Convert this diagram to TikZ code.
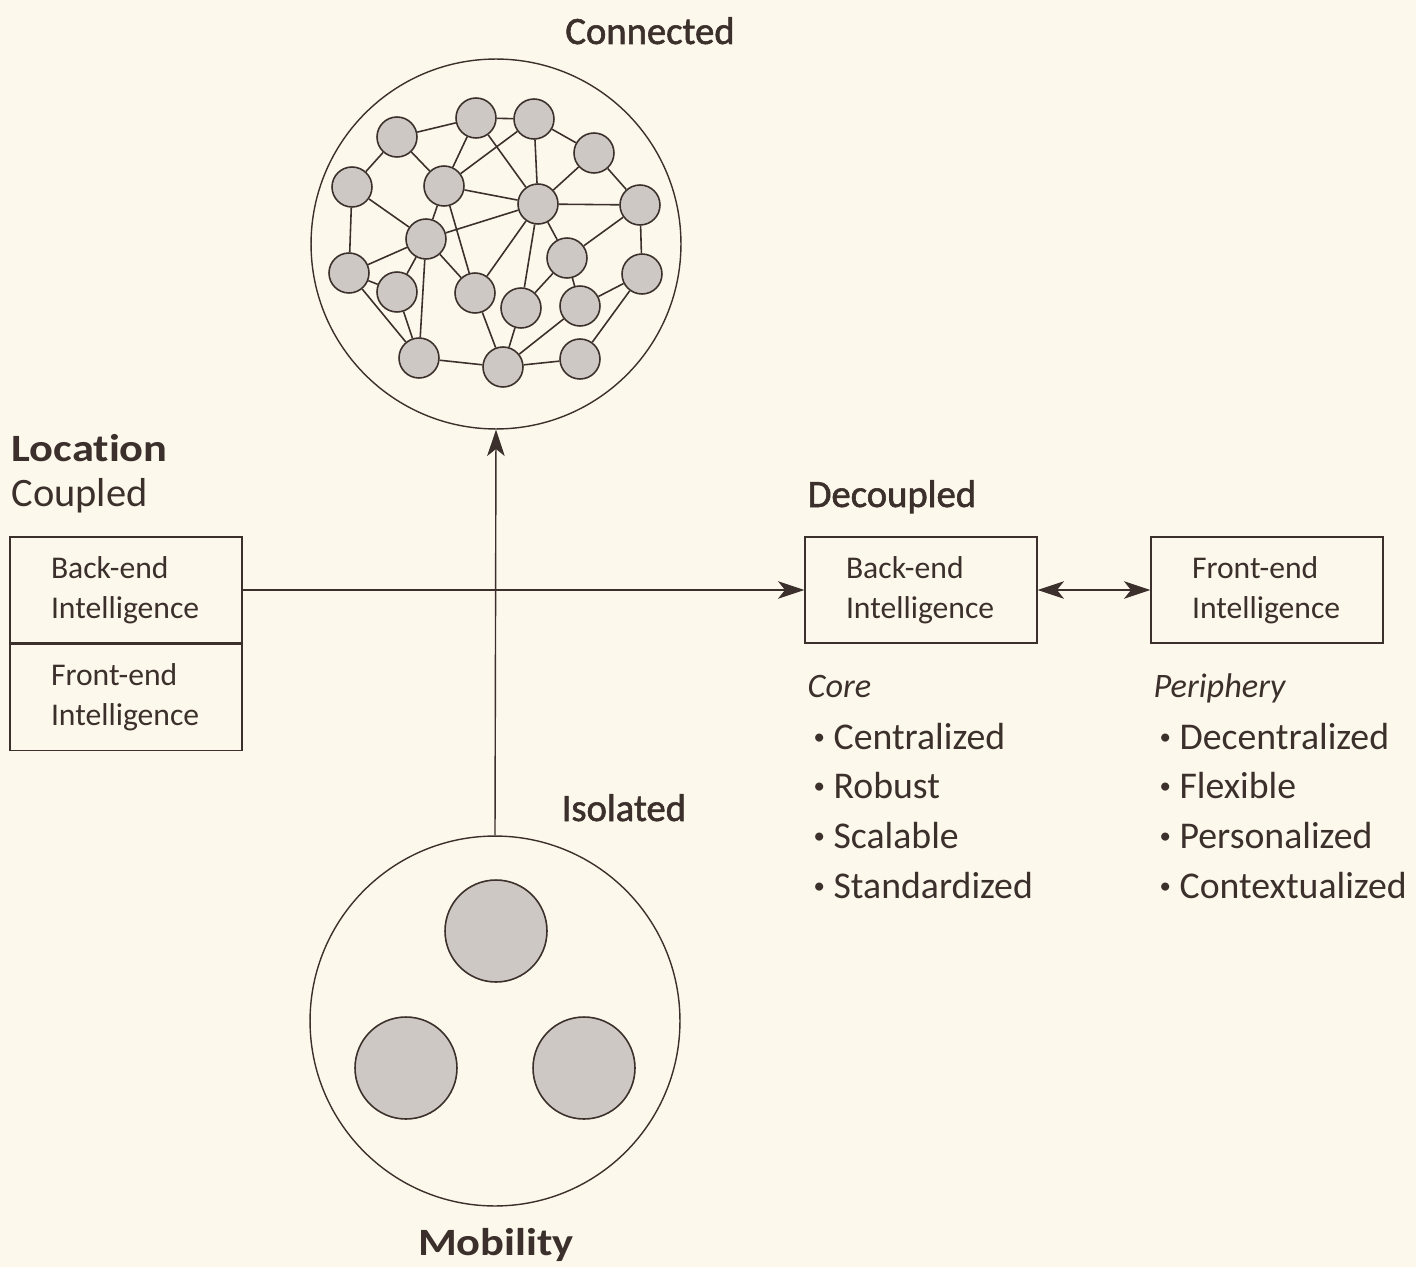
\documentclass[tikz,border=0pt]{standalone}
\usepackage{fontspec}
\setmainfont{Carlito}
\newfontfamily\widefont{Carlito}[FakeStretch=1.15,Ligatures=NoCommon]
\newfontfamily\semifont{Carlito}[FakeBold=1.5]
\usetikzlibrary{arrows.meta,positioning}
\definecolor{ink}{HTML}{3B302B}
\definecolor{nodegray}{HTML}{CDC8C3}
\definecolor{paper}{HTML}{FDF8EC}
\newcommand\dotmark{\raisebox{2.8pt}{\fontsize{13}{13}\selectfont •}}
\tikzset{
  hub/.style={circle,draw=ink,fill=nodegray,line width=0.9pt,minimum size=0.8cm,inner sep=0pt},
  blob/.style={hub,minimum size=2.04cm},
  ring/.style={circle,draw=ink,line width=0.8pt,minimum size=7.4cm,inner sep=0pt},
  ibox/.style={rectangle,draw=ink,line width=0.8pt,minimum height=2.12cm,text width=3.0cm,
    inner xsep=0.82cm,align=left,font=\fontsize{18}{22.7}\selectfont},
  axislabel/.style={inner sep=0pt,font=\widefont\bfseries\fontsize{22}{26}\selectfont},
  headlabel/.style={inner sep=0pt,font=\semifont\fontsize{22}{26}\selectfont},
  plainlabel/.style={inner sep=0pt,font=\fontsize{23}{27}\selectfont},
  listhead/.style={inner sep=0pt,font=\itshape\fontsize{19.5}{24}\selectfont},
  listitem/.style={inner sep=0pt,font=\fontsize{21.5}{26}\selectfont}
}
\begin{document}
\begin{tikzpicture}[>={Stealth[length=15pt,width=10pt,inset=4pt]},x=0.02cm,y=-0.02cm,color=ink,line width=0.8pt]
  \fill[paper] (0,0) rectangle (1416,1267);
  \useasboundingbox (0,0) rectangle (1416,1267);
  % connected network
  \node[ring] (net) at (496,244) {};
  \foreach \p/\q [count=\i] in {397/137,476/118,534/119,594/153,352/187,444/186,538/204,640/205,
      426/239,567/258,349/273,397/292,475/293,521/308,580/306,642/274,419/358,503/367,580/359}
    \node[hub] (n\i) at (\p,\q) {};
  \foreach \a/\b in {1/2,1/6,1/5,2/3,2/6,2/7,3/7,3/6,3/4,4/7,4/8,5/9,5/11,6/7,6/9,6/13,7/8,7/9,
      7/10,7/13,7/14,8/10,8/16,9/11,9/12,9/17,9/13,10/14,10/15,11/12,11/17,12/17,13/18,14/18,
      15/18,15/16,16/19,17/18,18/19}
    \draw[line width=0.9pt] (n\a) -- (n\b);
  \node[headlabel,anchor=base] (connected) at (650,44) {Connected};
  % isolated units
  \node[ring] (iso) at (495,1021) {};
  \node[blob] (iso1) at (496,931) {};
  \node[blob] (iso2) at (406,1068) {};
  \node[blob] (iso3) at (584,1068) {};
  \node[headlabel,anchor=base west] (isolated) at (561,821) {Isolated};
  \node[axislabel,anchor=base] (mobility) at (496,1255) {Mobility};
  \draw[->] (iso.north) -- (net.south);
  % location axis
  \node[axislabel,anchor=base west] (location) at (11,461) {Location};
  \node[plainlabel,anchor=base west] (coupled) at (11,506) {Coupled};
  \node[ibox] (coupledback) at (126,590) {Back-end\\Intelligence};
  \node[ibox,below=0pt of coupledback] (coupledfront) {Front-end\\Intelligence};
  \node[headlabel,anchor=base west] (decoupled) at (807,507) {Decoupled};
  \node[ibox] (backbox) at (921,590) {Back-end\\Intelligence};
  \node[ibox] (frontbox) at (1267,590) {Front-end\\Intelligence};
  \draw[->] (coupledback.east) -- (backbox.west);
  \draw[<->] (backbox.east) -- (frontbox.west);
  % properties
  \node[listhead,anchor=base west] (core) at (807,697) {Core};
  \node[listhead,anchor=base west] (periphery) at (1153,697) {Periphery};
  \foreach \w [count=\i] in {Centralized,Robust,Scalable,Standardized}
    \node[listitem,anchor=base west] (core\i) at (813,{749+49.7*(\i-1)}) {\dotmark\ \w};
  \foreach \w [count=\i] in {Decentralized,Flexible,Personalized,Contextualized}
    \node[listitem,anchor=base west] (periphery\i) at (1159,{749+49.7*(\i-1)}) {\dotmark\ \w};
\end{tikzpicture}
\end{document}
